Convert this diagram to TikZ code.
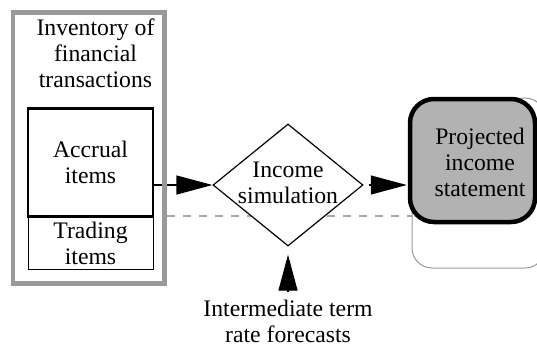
\documentclass[tikz,border=0pt]{standalone}
\usepackage{fontspec}
\setmainfont{Liberation Serif}
\usetikzlibrary{shapes.geometric,arrows.meta,backgrounds,positioning}
\tikzset{
  lbl/.style={ align=center, inner sep=0pt, font=\fontsize{23.7pt}{26pt}\selectfont }
}
\tikzset{
  invbox/.style={ draw=black!40, line width=4.5pt, minimum width=151.5pt, minimum height=271pt }
}
\tikzset{
  itembox/.style={ draw, lbl, minimum width=125pt }
}
\tikzset{
  simdiamond/.style={ draw, diamond, fill=white, line width=1.2pt, inner sep=0pt, minimum width=150pt, minimum height=122pt }
}
\tikzset{
  stmtbox/.style={ draw, line width=4.5pt, rounded corners=24pt, fill=black!30, minimum width=125pt, minimum height=123pt }
}
\tikzset{
  shadowbox/.style={ draw=black!40, line width=1pt, rounded corners=20pt, minimum width=133pt, minimum height=170pt }
}
\tikzset{
  dashline/.style={ draw=black!35, line width=1.5pt, dash pattern=on 8pt off 8pt }
}
\tikzset{
  feed/.style={ -{Triangle[length=36pt,width=19pt]}, line width=1.2pt }
}

\begin{document}
\begin{tikzpicture}[x=1pt, y=-1pt]
      \useasboundingbox (0,0) rectangle (537,349);

      \node[invbox] (inv) at (88.75,148) {};
      \node[lbl] (invtitle) at (95.5,53) {Inventory of\\financial\\transactions};
      \node[itembox, line width=2.5pt, minimum height=108pt] (accrual) at (90.5,162.5) {Accrual\\items};
      \node[itembox, line width=1pt, minimum height=53pt] (trading) at (90.5,243) {Trading\\items};

      \node[simdiamond] (sim) at (288,185) {};
      \node[lbl] (simtext) at (288,183) {Income\\simulation};

      \node[stmtbox] (stmt) at (472.5,160.5) {};
      \node[lbl] (stmttext) at (480,162) {Projected\\income\\statement};

      \node[lbl] (forecast) at (288,321) {Intermediate term\\rate forecasts};

      \begin{scope}[on background layer]
        \node[shadowbox] (shadow) at (478.5,183) {};
        \draw[dashline] (inv.east |- trading.north) -- (shadow.west |- trading.north);
        \draw[feed] (accrual.east |- sim.west) -- (sim.west);
      \end{scope}

      \draw[feed, shorten <=5pt, shorten >=1pt] (sim.east) -- (stmt.west |- sim.east);
      \draw[feed, shorten >=8pt] ([yshift=7pt]forecast.north) -- (sim.south);
    \end{tikzpicture}
\end{document}
